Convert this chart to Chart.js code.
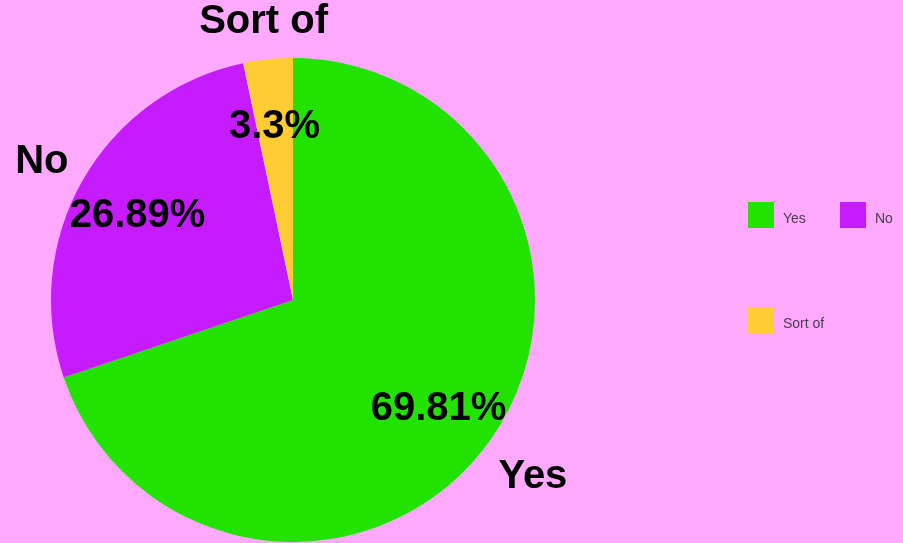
<!DOCTYPE html>
<html>
<head>
<meta charset="utf-8">
<script src="https://cdn.jsdelivr.net/npm/chart.js@4"></script>
<style>
  html, body { margin: 0; padding: 0; background: #FFAAFF; }
  canvas { display: block; }
</style>
</head>
<body>
<canvas id="myChart" width="903" height="543"></canvas>
<script>
'use strict';
const categories = ['Yes', 'No', 'Sort of'];
const percents = [69.81, 26.89, 3.3];
const percentLabels = ['69.81%', '26.89%', '3.3%'];
const sliceColors = ['#22E200', '#C61AFF', '#FFCC33'];

// Draws percent inside each slice and the category name outside it
const sliceLabels = {
    id: 'sliceLabels',
    afterDatasetsDraw(chart) {
        const ctx = chart.ctx;
        const arcs = chart.getDatasetMeta(0).data;
        const nameDist = [1.22, 1.195, 1.174]; // how far out the names sit
        ctx.save();
        ctx.font = 'bold 40px "Liberation Sans", Arial, sans-serif';
        ctx.fillStyle = '#000';
        ctx.textAlign = 'center';
        ctx.textBaseline = 'middle';
        arcs.forEach((arc, i) => {
            const mid = (arc.startAngle + arc.endAngle) / 2;
            const r = arc.outerRadius;
            const cx = Math.cos(mid), cy = Math.sin(mid);
            ctx.fillText(percentLabels[i], arc.x + cx * r * 0.74, arc.y + cy * r * 0.74 + 5);
            ctx.fillText(categories[i], arc.x + cx * r * nameDist[i], arc.y + cy * r * nameDist[i] + 5);
        });
        ctx.restore();
    }
};

// Legend in the odd two-per-row layout of the original
const sideLegend = {
    id: 'sideLegend',
    afterDraw(chart) {
        const ctx = chart.ctx;
        const spots = [[748, 202], [840, 202], [748, 307]];
        ctx.save();
        ctx.font = '14px "Liberation Sans", Arial, sans-serif';
        ctx.textBaseline = 'middle';
        categories.forEach((name, i) => {
            const [x, y] = spots[i];
            ctx.fillStyle = sliceColors[i];
            ctx.fillRect(x, y, 26, 26);
            ctx.fillStyle = '#4a3a4a';
            ctx.fillText(name, x + 35, y + 17);
        });
        ctx.restore();
    }
};

new Chart(document.getElementById('myChart').getContext('2d'), {
    type: 'pie',
    data: {
        labels: categories,
        datasets: [{
            data: percents,
            backgroundColor: sliceColors,
            borderWidth: 0
        }]
    },
    options: {
        responsive: false,
        animation: false,
        layout: { padding: { left: 51, right: 368, top: 58, bottom: 1 } },
        plugins: {
            legend: { display: false },
            tooltip: { enabled: false }
        }
    },
    plugins: [sliceLabels, sideLegend]
});
</script>
</body>
</html>
